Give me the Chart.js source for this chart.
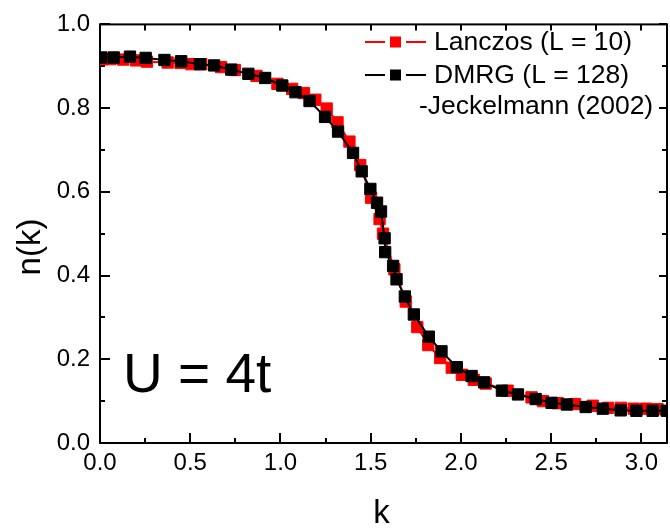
<!DOCTYPE html>
<html>
<head>
<meta charset="utf-8">
<title>n(k)</title>
<script src="https://cdn.jsdelivr.net/npm/chart.js@4.4.1/dist/chart.umd.min.js"></script>
<style>
  html, body { margin: 0; padding: 0; background: #fff; overflow: hidden; }
  #wrap { width: 676px; height: 529px; }
</style>
</head>
<body>
<div id="wrap"><canvas id="grafico"></canvas></div>
<script>
var kLanczos = [0.014, 0.058, 0.129, 0.200, 0.260, 0.375, 0.446, 0.507, 0.561, 0.671, 0.747, 0.867, 0.983, 1.065,
                1.130, 1.193, 1.256, 1.316, 1.382, 1.442, 1.502, 1.549, 1.568, 1.631, 1.694, 1.758, 1.819, 1.885,
                1.949, 2.005, 2.071, 2.137, 2.258, 2.391, 2.454, 2.536, 2.632, 2.730, 2.815, 2.886, 2.957, 3.025, 3.089];
var nLanczos = [0.917, 0.917, 0.916, 0.914, 0.911, 0.909, 0.908, 0.905, 0.905, 0.898, 0.891, 0.877, 0.858, 0.846,
                0.836, 0.820, 0.799, 0.766, 0.720, 0.664, 0.586, 0.535, 0.500, 0.415, 0.338, 0.277, 0.234, 0.203,
                0.180, 0.163, 0.151, 0.142, 0.125, 0.109, 0.100, 0.095, 0.093, 0.089, 0.084, 0.084, 0.082, 0.082, 0.081];

var kDmrg = [0.007, 0.076, 0.166, 0.253, 0.357, 0.450, 0.554, 0.632, 0.727, 0.822, 0.915, 1.010, 1.083, 1.161,
             1.247, 1.319, 1.402, 1.450, 1.498, 1.535, 1.557, 1.577, 1.580, 1.624, 1.643, 1.689, 1.739, 1.822,
             1.892, 1.977, 2.059, 2.128, 2.227, 2.316, 2.414, 2.502, 2.587, 2.691, 2.786, 2.885, 2.972, 3.062, 3.140];
var nDmrg = [0.921, 0.921, 0.923, 0.920, 0.915, 0.912, 0.905, 0.902, 0.892, 0.882, 0.872, 0.854, 0.838, 0.817,
             0.779, 0.744, 0.693, 0.649, 0.607, 0.574, 0.553, 0.489, 0.456, 0.423, 0.391, 0.350, 0.307, 0.254,
             0.219, 0.181, 0.160, 0.145, 0.125, 0.116, 0.105, 0.096, 0.092, 0.086, 0.082, 0.078, 0.077, 0.077, 0.077];

var xTicks = [0, 0.5, 1.0, 1.5, 2.0, 2.5, 3.0];
var yTicks = [0, 0.2, 0.4, 0.6, 0.8, 1.0];
var seriesLabels = ['Lanczos (L = 10)', 'DMRG (L = 128)'];
var legendNote = '-Jeckelmann (2002)';
var panelLabel = 'U = 4t';

(function(){

    'use strict'

    var FONTE = "'Liberation Sans', Arial, sans-serif";

    var util = {
        pontos : function(xs, ys) {
            var lista = [];
            for (var i = 0; i < xs.length; i++) {
                lista.push({ x: xs[i], y: ys[i] });
            }
            return lista;
        }
    };

    // moldura fechada com marcas para dentro, como no Origin
    var molduraPlugin = {
        id: 'moldura',
        beforeDatasetsDraw : function(chart) {
            var ctx = chart.ctx, a = chart.chartArea;
            var sx = chart.scales.x, sy = chart.scales.y;
            var v, p;

            ctx.save();
            ctx.strokeStyle = '#000';
            ctx.lineWidth = 2;
            ctx.strokeRect(a.left, a.top, a.right - a.left, a.bottom - a.top);

            ctx.beginPath();
            for (v = 0; v <= sx.max + 1e-6; v += 0.25) {
                p = Math.round(sx.getPixelForValue(v));
                var maior = Math.abs(v * 2 - Math.round(v * 2)) < 1e-6;
                ctx.moveTo(p, a.bottom);
                ctx.lineTo(p, a.bottom - (maior ? 10 : 5));
                ctx.moveTo(p, a.top);
                ctx.lineTo(p, a.top + 6);
            }
            for (v = 0; v <= 1.0001; v += 0.1) {
                p = Math.round(sy.getPixelForValue(v));
                var grande = Math.round(v * 10) % 2 === 0;
                ctx.moveTo(a.left, p);
                ctx.lineTo(a.left + (grande ? 10 : 5), p);
                ctx.moveTo(a.right, p);
                ctx.lineTo(a.right - (grande ? 8 : 5), p);
            }
            ctx.stroke();
            ctx.restore();
        },

        afterDatasetsDraw : function(chart) {
            var ctx = chart.ctx, a = chart.chartArea;
            var cores = ['#ff0000', '#000000'];
            var linhas = [42, 75];

            ctx.save();
            ctx.fillStyle = '#000';
            ctx.textBaseline = 'middle';

            // legenda
            ctx.lineWidth = 2;
            ctx.font = '26.5px ' + FONTE;
            for (var i = 0; i < seriesLabels.length; i++) {
                var y = linhas[i];
                ctx.strokeStyle = cores[i];
                ctx.fillStyle = cores[i];
                ctx.beginPath();
                ctx.moveTo(365, y); ctx.lineTo(385, y);
                ctx.moveTo(406, y); ctx.lineTo(426, y);
                ctx.stroke();
                ctx.fillRect(390, y - 5.5, 11, 11);
                ctx.fillStyle = '#000';
                ctx.textAlign = 'left';
                ctx.fillText(seriesLabels[i], 434, y + 1);
            }
            ctx.fillText(legendNote, 419, 107);

            // titulos dos eixos
            ctx.font = '33px ' + FONTE;
            ctx.textAlign = 'center';
            ctx.fillText('k', (a.left + a.right) / 2 - 2, 514);
            ctx.save();
            ctx.translate(31, 247);
            ctx.rotate(-Math.PI / 2);
            ctx.fillText('n(k)', 0, 0);
            ctx.restore();

            ctx.font = '55px ' + FONTE;
            ctx.textAlign = 'left';
            ctx.textBaseline = 'alphabetic';
            ctx.fillText(panelLabel, 123, 392);
            ctx.restore();
        }
    };

    var grafico = {

        serie : function(rotulo, xs, ys, cor, ordem) {
            return {
                label: rotulo,
                data: util.pontos(xs, ys),
                borderColor: cor,
                backgroundColor: cor,
                borderWidth: 2,
                pointStyle: 'rect',
                pointRadius: 8,
                pointBorderWidth: 1,
                pointBorderColor: cor,
                pointBackgroundColor: cor,
                tension: 0,
                order: ordem
            };
        } ,

        fixarTicks : function(valores) {
            return function(escala) {
                escala.ticks = valores.map(function(v) { return { value: v }; });
            };
        } ,

        init : function() {
            var ctx = document.getElementById('grafico').getContext('2d');

            new Chart(ctx, {
                type: 'line',
                data: {
                    datasets: [
                        this.serie(seriesLabels[0], kLanczos, nLanczos, '#ff0000', 1),
                        this.serie(seriesLabels[1], kDmrg, nDmrg, '#000000', 0)
                    ]
                },
                options: {
                    responsive: true,
                    maintainAspectRatio: false,
                    animation: false,
                    events: [],
                    layout: { padding: { top: 20, right: 1, left: 0, bottom: 0 } },
                    plugins: {
                        legend: { display: false },
                        tooltip: { enabled: false }
                    },
                    scales: {
                        x: {
                            type: 'linear',
                            min: 0,
                            max: Math.PI,
                            grid: { display: false, drawTicks: false },
                            border: { display: false },
                            afterBuildTicks: this.fixarTicks(xTicks),
                            afterFit: function(s) { s.height = 86; },
                            ticks: {
                                color: '#000',
                                padding: 6,
                                maxRotation: 0,
                                font: { family: FONTE, size: 24 },
                                callback: function(v) { return v.toFixed(1); }
                            }
                        },
                        y: {
                            min: 0,
                            max: 1,
                            grid: { display: false, drawTicks: false },
                            border: { display: false },
                            afterBuildTicks: this.fixarTicks(yTicks),
                            afterFit: function(s) { s.width = 100; },
                            ticks: {
                                color: '#000',
                                padding: 10,
                                font: { family: FONTE, size: 24 },
                                callback: function(v) { return v.toFixed(1); }
                            }
                        }
                    }
                },
                plugins: [molduraPlugin]
            });
        }
    };

    grafico.init();

})();
</script>
</body>
</html>
